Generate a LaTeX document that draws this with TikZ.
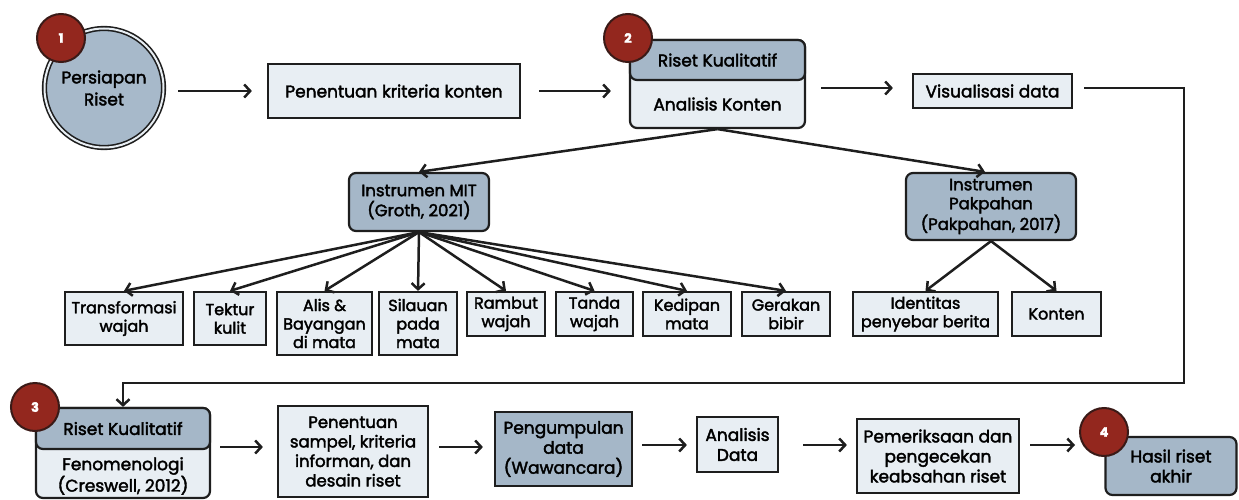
\documentclass[tikz,border=0pt]{standalone}
\usepackage{fontspec}
\setmainfont{Poppins}[FakeBold=2.2]
\usetikzlibrary{arrows.meta}
\definecolor{ink}{HTML}{1E1E1E}
\definecolor{light}{HTML}{E8EEF3}
\definecolor{dark}{HTML}{A5B7C8}
\definecolor{circ}{HTML}{A7B9CA}
\definecolor{badge}{HTML}{93271E}
\definecolor{badgeline}{HTML}{3A1A17}
\begin{document}
\begin{tikzpicture}[x=1pt,y=-1pt,
  font=\fontsize{17}{20}\selectfont,
  box/.style={draw=ink, line width=2.2pt, fill=light, inner sep=0pt, align=center},
  leaf/.style={box, font=\fontsize{16}{18.5}\selectfont},
  dbox/.style={box, fill=dark, rounded corners=7pt},
  badgenode/.style={circle, draw=badgeline, line width=2pt, fill=badge, text=white,
    minimum size=48pt, inner sep=0pt, font=\fontsize{13}{13}\selectfont\bfseries},
  arr/.style={-{Straight Barb[length=6pt,width=13pt]}, line width=2.5pt, draw=ink}]
\useasboundingbox (0,0) rectangle (1239,500);

% ---- top row
\node[circle, draw=ink, line width=1.6pt, double=light, double distance=2pt, fill=circ,
  minimum size=119pt, inner sep=0pt, align=center, font=\fontsize{17}{22}\selectfont] (pr) at (104,88) {Persiapan\\Riset};
\node[badgenode] (b1) at (61,38) {1};
\node[box, minimum width=252pt, minimum height=54pt] (pkk) at (394,91) {Penentuan kriteria konten};
\node[dbox, fill=light, minimum width=175pt, minimum height=88pt] (ak) at (717.5,84) {};
\node[dbox, minimum width=175pt, minimum height=40pt] (akt) at (717.5,60) {Riset Kualitatif};
\node[align=center] (akb) at (717.5,104) {Analisis Konten};
\node[badgenode] (b2) at (628,38) {2};
\node[box, minimum width=159pt, minimum height=34pt] (vis) at (992.5,91) {Visualisasi data};

\draw[arr] ([xshift=14pt]pr.east |- pkk.west) -- ([xshift=-15pt]pkk.west);
\draw[arr] ([xshift=18pt]pkk.east) -- ([xshift=-18pt]ak.west |- pkk.east);
\draw[arr] ([xshift=15pt]ak.east |- 0,88) -- ([xshift=-19pt]vis.west |- 0,88);

% ---- instruments
\node[dbox, minimum width=140pt, minimum height=58pt, font=\fontsize{16.5}{20}\selectfont] (mit) at (419,202) {Instrumen MIT\\(Groth, 2021)};
\node[dbox, minimum width=170pt, minimum height=67pt, font=\fontsize{16.5}{19}\selectfont] (pak) at (991,206.5) {Instrumen\\Pakpahan\\(Pakpahan, 2017)};
\draw[arr] (ak.south) -- (mit.north);
\draw[arr] (ak.south) -- ([xshift=-6pt]pak.north);

\node[leaf, minimum width=118pt, minimum height=53pt] (tw) at (124,318.5) {Transformasi\\wajah};
\node[leaf, minimum width=72pt, minimum height=53pt] (tk) at (230,318.5) {Tektur\\kulit};
\node[leaf, minimum width=95pt, minimum height=63pt] (ab) at (324.5,323.5) {Alis \&\\Bayangan\\di mata};
\node[leaf, minimum width=78pt, minimum height=63pt] (sp) at (418,323.5) {Silauan\\pada\\mata};
\node[leaf, minimum width=78pt, minimum height=44pt] (rw) at (506,314) {Rambut\\wajah};
\node[leaf, minimum width=77pt, minimum height=44pt] (tdw) at (594.5,314) {Tanda\\wajah};
\node[leaf, minimum width=88pt, minimum height=44pt] (km) at (687,314) {Kedipan\\mata};
\node[leaf, minimum width=88pt, minimum height=44pt] (gb) at (786,314) {Gerakan\\bibir};
\node[leaf, minimum width=145pt, minimum height=44pt] (id) at (925.5,314) {Identitas\\penyebar berita};
\node[leaf, minimum width=89pt, minimum height=44pt] (kt) at (1056.5,314) {Konten};

\foreach \n in {tw,tk,ab,sp,rw,tdw,km,gb} \draw[arr] (mit.south) -- (\n.north);
\draw[arr] (pak.south) -- (id.north);
\draw[arr] (pak.south) -- (kt.north);

% ---- bottom row
\node[dbox, fill=light, minimum width=174pt, minimum height=90pt] (rk) at (123,453) {};
\node[dbox, minimum width=174pt, minimum height=41pt] (rkt) at (123,428.5) {Riset Kualitatif};
\node[align=center] (rkb) at (123,476) {Fenomenologi\\(Creswell, 2012)};
\node[badgenode] (b3) at (35,407) {3};

\node[box, minimum width=150pt, minimum height=91pt, font=\fontsize{16.5}{19.5}\selectfont] (ps) at (353,451.5) {Penentuan\\sampel, kriteria\\informan, dan\\desain riset};
\node[box, fill=dark, minimum width=137pt, minimum height=74pt] (pd) at (563.5,449) {Pengumpulan\\data\\(Wawancara)};
\node[box, minimum width=81pt, minimum height=55pt] (ad) at (737.5,444.5) {Analisis\\Data};
\node[box, minimum width=162pt, minimum height=74pt] (pm) at (938,456) {Pemeriksaan dan\\pengecekan\\keabsahan riset};
\node[dbox, minimum width=131pt, minimum height=58pt] (hr) at (1171,466) {Hasil riset\\akhir};
\node[badgenode] (b4) at (1104,432) {4};

\coordinate (c1) at (1184,383);
\draw[arr] ([xshift=11pt]vis.east |- 0,88) -| (c1) -| (rk.north);

\draw[arr] ([xshift=9pt]rk.east |- 0,447) -- ([xshift=-14pt]ps.west |- 0,447);
\draw[arr] ([xshift=10pt]ps.east |- 0,447) -- ([xshift=-11pt]pd.west |- 0,447);
\draw[arr] ([xshift=9pt]pd.east |- 0,445) -- ([xshift=-9pt]ad.west |- 0,445);
\draw[arr] ([xshift=24pt]ad.east |- 0,445) -- ([xshift=-9pt]pm.west |- 0,445);
\draw[arr] ([xshift=10pt]pm.east |- 0,445) -- ([xshift=-4pt]b4.west |- 0,445);
\end{tikzpicture}
\end{document}
